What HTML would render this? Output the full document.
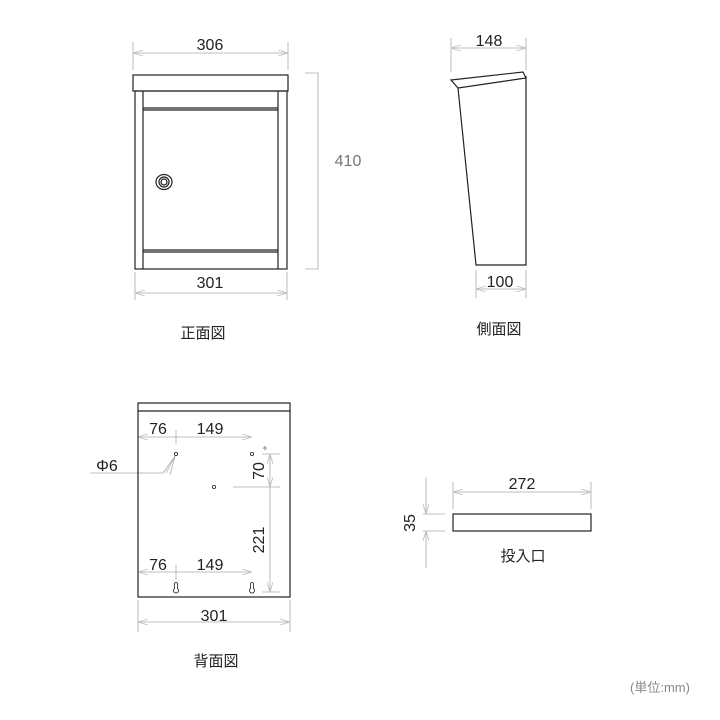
<!DOCTYPE html>
<html><head><meta charset="utf-8"><style>
html,body{margin:0;padding:0;background:#fff;}
svg{display:block;font-family:"Liberation Sans","Noto Sans CJK JP",sans-serif;}
</style></head><body>
<svg width="720" height="720" viewBox="0 0 720 720" xmlns="http://www.w3.org/2000/svg">
<defs>
<marker id="a" viewBox="0 0 10 6" refX="10" refY="3" markerWidth="10" markerHeight="6" orient="auto-start-reverse" markerUnits="userSpaceOnUse">
<path d="M0,0 L10,3 L0,6" fill="none" stroke="#bbb" stroke-width="0.8"/>
</marker>
</defs>
<g fill="none" stroke="#aaa" stroke-width="0.8">
<line x1="133" y1="42" x2="133" y2="70"/><line x1="288" y1="42" x2="288" y2="70"/>
<line x1="133" y1="53" x2="288" y2="53" marker-start="url(#a)" marker-end="url(#a)"/>
<line x1="135" y1="272" x2="135" y2="300"/><line x1="287" y1="272" x2="287" y2="300"/>
<line x1="135" y1="293" x2="287" y2="293" marker-start="url(#a)" marker-end="url(#a)"/>
<polyline points="305,73 318,73 318,269 305,269"/>
<line x1="451" y1="38" x2="451" y2="72"/><line x1="526" y1="38" x2="526" y2="70"/>
<line x1="451" y1="48" x2="526" y2="48" marker-start="url(#a)" marker-end="url(#a)"/>
<line x1="476" y1="270" x2="476" y2="298"/><line x1="526" y1="270" x2="526" y2="298"/>
<line x1="476" y1="289" x2="526" y2="289" marker-start="url(#a)" marker-end="url(#a)"/>
<line x1="138" y1="437" x2="252" y2="437" marker-start="url(#a)" marker-end="url(#a)"/>
<line x1="176" y1="430" x2="176" y2="444"/>
<line x1="138" y1="572" x2="252" y2="572" marker-start="url(#a)" marker-end="url(#a)"/>
<line x1="176" y1="565" x2="176" y2="579"/>
<line x1="233" y1="487" x2="280" y2="487"/><line x1="262" y1="454" x2="280" y2="454"/>
<line x1="270" y1="454" x2="270" y2="487" marker-start="url(#a)" marker-end="url(#a)"/>
<line x1="270" y1="487" x2="270" y2="592" marker-end="url(#a)"/>
<line x1="262" y1="592" x2="280" y2="592"/>
<line x1="138" y1="600" x2="138" y2="632"/><line x1="290" y1="600" x2="290" y2="632"/>
<line x1="138" y1="622" x2="290" y2="622" marker-start="url(#a)" marker-end="url(#a)"/>
<line x1="90" y1="473" x2="163" y2="473"/>
<line x1="163" y1="473" x2="175" y2="456"/><line x1="166" y1="473" x2="175" y2="456"/><line x1="170" y1="475" x2="175" y2="456"/>
<line x1="453" y1="482" x2="453" y2="509"/><line x1="591" y1="482" x2="591" y2="509"/>
<line x1="453" y1="492" x2="591" y2="492" marker-start="url(#a)" marker-end="url(#a)"/>
<line x1="423" y1="514" x2="445" y2="514"/><line x1="423" y1="531" x2="445" y2="531"/>
<line x1="426" y1="477" x2="426" y2="514" marker-end="url(#a)"/>
<line x1="426" y1="568" x2="426" y2="531" marker-end="url(#a)"/>
</g>
<g fill="none" stroke="#222" stroke-width="1.2">
<rect x="133" y="75" width="155" height="16"/>
<rect x="135" y="91" width="152" height="178"/>
<line x1="143" y1="91" x2="143" y2="269"/><line x1="278" y1="91" x2="278" y2="269"/>
<line x1="143" y1="108" x2="278" y2="108"/><line x1="143" y1="110" x2="278" y2="110"/>
<line x1="143" y1="250" x2="278" y2="250"/><line x1="143" y1="252" x2="278" y2="252"/>
<ellipse cx="164" cy="182" rx="8" ry="7.5"/><circle cx="164" cy="182" r="5"/><circle cx="164" cy="182" r="3"/>
<polyline points="458,88 451,80 523,72 526,78 458,88 476,265 526,265 526,76"/>
<rect x="138" y="403" width="152" height="194"/>
<line x1="138" y1="411" x2="290" y2="411"/>
<rect x="453" y="514" width="138" height="17"/>
</g>
<g fill="none" stroke="#222" stroke-width="0.8">
<circle cx="176" cy="454" r="1.6"/><circle cx="252" cy="454" r="1.6"/><circle cx="214" cy="487" r="1.6"/>
<path d="M174.5,584 a1.5,1.5 0 0 1 3,0 L177.5,588.5 a2.5,2.5 0 1 1 -3,0 Z"/>
<path d="M250.5,584 a1.5,1.5 0 0 1 3,0 L253.5,588.5 a2.5,2.5 0 1 1 -3,0 Z"/>
</g>
<g fill="#222" font-size="16" text-anchor="middle">
<text x="210" y="50">306</text>
<text x="210" y="288">301</text>
<text x="348" y="166" fill="#777">410</text>
<text x="489" y="46">148</text>
<text x="500" y="287">100</text>
<text x="158" y="434">76</text>
<text x="210" y="434">149</text>
<text x="158" y="570">76</text>
<text x="210" y="570">149</text>
<text x="214" y="621">301</text>
<text x="107" y="471">Φ6</text>
<text transform="translate(264,471) rotate(-90)">70</text>
<text x="265" y="454" font-size="10">°</text>
<text transform="translate(264,540) rotate(-90)">221</text>
<text x="522" y="489">272</text>
<text transform="translate(415,523) rotate(-90)">35</text>
<text x="203" y="338" font-size="15">正面図</text>
<text x="499" y="334" font-size="15">側面図</text>
<text x="216" y="666" font-size="15">背面図</text>
<text x="523" y="561" font-size="15">投入口</text>
<text x="660" y="692" font-size="13" fill="#888">(単位:mm)</text>
</g>
</svg>
</body></html>
